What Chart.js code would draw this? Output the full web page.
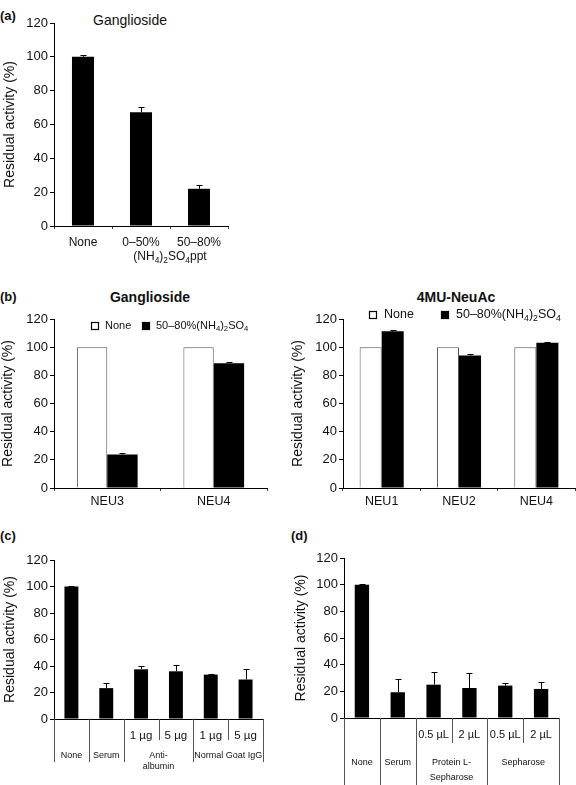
<!DOCTYPE html>
<html>
<head>
<meta charset="utf-8">
<script src="https://cdn.jsdelivr.net/npm/chart.js@4.4.1/dist/chart.umd.min.js"></script>
<style>
  body { margin: 0; background: #fff; width: 576px; height: 785px; position: relative; overflow: hidden;
         font-family: Arial, "Liberation Sans", Helvetica, sans-serif; color: #111; }
  canvas { position: absolute; }
  .tag { position: absolute; font-weight: bold; font-size: 13px; white-space: nowrap; transform: translateY(-50%); }
  .ttl { position: absolute; font-size: 14px; white-space: nowrap; transform: translate(-50%, -50%); }
  .ttl.b { font-weight: bold; }
</style>
</head>
<body>
<div class="tag" style="left:0;top:15px">(a)</div>
<div class="ttl" style="left:130px;top:20px">Ganglioside</div>
<div class="tag" style="left:0;top:296px">(b)</div>
<div class="ttl b" style="left:150px;top:297px">Ganglioside</div>
<div class="ttl b" style="left:456px;top:297px">4MU-NeuAc</div>
<div class="tag" style="left:0;top:535px">(c)</div>
<div class="tag" style="left:291px;top:535px">(d)</div>

<script>
// ---- data ----
const yTitle = 'Residual activity (%)';
const yMax = 120;
const yStep = 20;

const aLabels = ['None', '0–50%', '50–80%'];
const aSpanLabel = '(NH₄)₂SO₄ppt';
const aValues = [100, 67.3, 22];
const aErrors = [0.8, 2.9, 2.1];

const seriesNames = ['None', '50–80%(NH₄)₂SO₄'];

const bGangLabels = ['NEU3', 'NEU4'];
const bGangNone = [100, 100];
const bGangTreated = [23.8, 88.6];
const bGangErrors = [0.9, 1.1];

const bMuLabels = ['NEU1', 'NEU2', 'NEU4'];
const bMuNone = [100, 100, 100];
const bMuTreated = [111.3, 94.1, 103.1];
const bMuErrors = [1.2, 1.4, 0.9];

const cLabels = ['', '', '1 µg', '5 µg', '1 µg', '5 µg'];
const cGroups = [['None'], ['Serum'], ['Anti-', 'albumin'], ['Normal Goat IgG']];
const cSpans = [1, 1, 2, 2];
const cValues = [100, 23.3, 37.5, 36, 33.5, 29.8];
const cErrors = [0.5, 4.2, 2.2, 4.5, 0.8, 8];

const dLabels = ['', '', '0.5 µL', '2 µL', '0.5 µL', '2 µL'];
const dGroups = [['None'], ['Serum'], ['Protein L-', 'Sepharose'], ['Sepharose']];
const dSpans = [1, 1, 2, 2];
const dValues = [100, 19.3, 25, 22.5, 24.3, 21.8];
const dErrors = [0.3, 10, 9.5, 11.3, 2, 5.2];

// ---- helpers ----
const FONT = 'Arial, "Liberation Sans", Helvetica, sans-serif';
Chart.defaults.font.family = FONT;
Chart.defaults.color = '#111';

const SUB = '₀₁₂₃₄₅₆₇₈₉';
function drawRich(ctx, text, x, y, size, align) {
    const runs = [];
    for (const ch of text) {
        const k = SUB.indexOf(ch);
        const sub = k >= 0;
        const c = sub ? String(k) : ch;
        const last = runs[runs.length - 1];
        if (last && last.sub === sub) last.t += c;
        else runs.push({ t: c, sub });
    }
    let w = 0;
    runs.forEach(r => {
        ctx.font = `${r.sub ? size * 0.7 : size}px ${FONT}`;
        r.w = ctx.measureText(r.t).width;
        w += r.w;
    });
    let cx = align === 'center' ? x - w / 2 : x;
    ctx.textAlign = 'left';
    ctx.textBaseline = 'middle';
    runs.forEach(r => {
        ctx.font = `${r.sub ? size * 0.7 : size}px ${FONT}`;
        ctx.fillText(r.t, cx, r.sub ? y + size * 0.3 : y);
        cx += r.w;
    });
}

function place(id, left, top, w, h) {
    const c = document.createElement('canvas');
    c.id = id;
    c.width = w; c.height = h;
    c.style.left = left + 'px'; c.style.top = top + 'px';
    c.style.width = w + 'px'; c.style.height = h + 'px';
    document.body.appendChild(c);
    return c.getContext('2d');
}

// one-sided error bars on top of the bars
const errorBars = {
    id: 'errorBars',
    afterDatasetsDraw(chart) {
        const ctx = chart.ctx, y = chart.scales.y;
        chart.data.datasets.forEach((ds, di) => {
            if (!ds.errors) return;
            chart.getDatasetMeta(di).data.forEach((bar, i) => {
                const e = ds.errors[i];
                if (!e) return;
                const x = Math.round(bar.x) + 0.5;
                const top = Math.round(y.getPixelForValue(ds.data[i] + e)) + 0.5;
                ctx.save();
                ctx.strokeStyle = '#000';
                ctx.lineWidth = 1;
                ctx.beginPath();
                ctx.moveTo(x, bar.y);
                ctx.lineTo(x, top);
                ctx.moveTo(x - 3, top);
                ctx.lineTo(x + 3, top);
                ctx.stroke();
                ctx.restore();
            });
        });
    }
};

// label shared by several categories (panel a)
const spanLabel = {
    id: 'spanLabel',
    afterDraw(chart, args, o) {
        if (!o.text) return;
        const x = chart.scales.x, ctx = chart.ctx;
        const cx = (x.getPixelForValue(o.from) + x.getPixelForValue(o.to)) / 2;
        ctx.save();
        ctx.fillStyle = '#111';
        drawRich(ctx, o.text, cx, o.y, o.size, 'center');
        ctx.restore();
    }
};

// square legend inside the plot (panel b)
const boxLegend = {
    id: 'boxLegend',
    afterDraw(chart, args, o) {
        if (o.x === undefined) return;
        const ctx = chart.ctx;
        chart.data.datasets.forEach((ds, i) => {
            const x = o.x + o.offsets[i];
            ctx.save();
            ctx.fillStyle = ds.backgroundColor;
            ctx.fillRect(x, o.y - o.box / 2, o.box, o.box);
            ctx.strokeStyle = '#000';
            ctx.lineWidth = 1.2;
            ctx.strokeRect(x + 0.5, o.y - o.box / 2 + 0.5, o.box - 1, o.box - 1);
            ctx.fillStyle = '#111';
            drawRich(ctx, ds.label, x + o.box + o.gap, o.y, o.size, 'left');
            ctx.restore();
        });
    }
};

// category table under the x axis (panels c, d)
const groupTable = {
    id: 'groupTable',
    afterDraw(chart, args, o) {
        if (!o.groups) return;
        const x = chart.scales.x, ctx = chart.ctx;
        const n = chart.data.labels.length;
        const edge = i => i === 0 ? x.left : i === n ? x.right
            : (x.getPixelForValue(i - 1) + x.getPixelForValue(i)) / 2;
        const full = new Set([0]);
        let acc = 0;
        o.spans.forEach(s => { acc += s; full.add(acc); });
        ctx.save();
        ctx.strokeStyle = '#555';
        ctx.lineWidth = 1;
        ctx.beginPath();
        for (let i = 0; i <= n; i++) {
            const px = Math.round(edge(i)) + 0.5;
            ctx.moveTo(px, x.top);
            ctx.lineTo(px, full.has(i) ? o.fullBottom : o.shortBottom);
        }
        ctx.stroke();
        ctx.fillStyle = '#111';
        ctx.font = `${o.size}px ${FONT}`;
        ctx.textAlign = 'center';
        ctx.textBaseline = 'middle';
        acc = 0;
        o.groups.forEach((lines, g) => {
            const cx = (edge(acc) + edge(acc + o.spans[g])) / 2;
            lines.forEach((t, li) => ctx.fillText(t, cx, o.y + li * o.gap));
            acc += o.spans[g];
        });
        ctx.restore();
    }
};

function yScale(width, titlePad) {
    return {
        min: 0, max: yMax,
        ticks: { stepSize: yStep, font: { size: 13 }, padding: 2, color: '#111' },
        grid: { display: true, drawOnChartArea: false, drawTicks: true, tickLength: 4, color: '#000' },
        border: { display: true, color: '#000', width: 1 },
        title: { display: true, text: yTitle, font: { size: 14 }, padding: { top: titlePad, bottom: 0 }, color: '#111' },
        afterFit: s => { s.width = width; }
    };
}

function xScale(height, size, pad, marks) {
    return {
        ticks: { font: { size }, padding: pad, autoSkip: false, maxRotation: 0, color: '#111' },
        grid: { display: marks, drawOnChartArea: false, tickLength: 3, color: '#444', offset: true },
        border: { display: true, color: '#000', width: 1 },
        afterFit: s => { s.height = height; }
    };
}

function baseOptions(padding, x, y, extra) {
    return {
        responsive: false,
        animation: false,
        events: [],
        layout: { padding },
        plugins: Object.assign({ legend: { display: false }, tooltip: { enabled: false } }, extra),
        scales: { x, y }
    };
}

// ---- (a) ----
new Chart(place('chartA', 0, 0, 290, 280), {
    type: 'bar',
    data: {
        labels: aLabels,
        datasets: [{ label: 'Ganglioside', data: aValues, errors: aErrors, backgroundColor: '#000',
                     barPercentage: 0.38, categoryPercentage: 1 }]
    },
    options: baseOptions({ top: 23, right: 62, left: 0, bottom: 0 },
        xScale(54, 12, 6, true), yScale(54, 2),
        { spanLabel: { text: aSpanLabel, from: 1, to: 2, y: 257, size: 12 } }),
    plugins: [errorBars, spanLabel]
});

// ---- (b) Ganglioside ----
new Chart(place('chartB1', 0, 280, 288, 240), {
    type: 'bar',
    data: {
        labels: bGangLabels,
        datasets: [
            { label: seriesNames[0], data: bGangNone, backgroundColor: '#fff', borderColor: '#555', borderWidth: 1,
              barPercentage: 1, categoryPercentage: 0.57 },
            { label: seriesNames[1], data: bGangTreated, errors: bGangErrors, backgroundColor: '#000',
              barPercentage: 1, categoryPercentage: 0.57 }
        ]
    },
    options: baseOptions({ top: 39, right: 21, left: 0, bottom: 0 },
        xScale(32, 12.5, 3.5, true), yScale(54, 0),
        { boxLegend: { x: 91, y: 46, offsets: [0, 51], box: 8, gap: 6, size: 11 } }),
    plugins: [errorBars, boxLegend]
});

// ---- (b) 4MU-NeuAc ----
new Chart(place('chartB2', 288, 280, 288, 240), {
    type: 'bar',
    data: {
        labels: bMuLabels,
        datasets: [
            { label: seriesNames[0], data: bMuNone, backgroundColor: '#fff', borderColor: '#555', borderWidth: 1,
              barPercentage: 1, categoryPercentage: 0.57 },
            { label: seriesNames[1], data: bMuTreated, errors: bMuErrors, backgroundColor: '#000',
              barPercentage: 1, categoryPercentage: 0.57 }
        ]
    },
    options: baseOptions({ top: 39, right: 1, left: 0, bottom: 0 },
        xScale(32, 12.5, 3.5, true), yScale(55, 2),
        { boxLegend: { x: 81, y: 35, offsets: [0, 72], box: 8, gap: 7, size: 12.5 } }),
    plugins: [errorBars, boxLegend]
});

// ---- (c) ----
new Chart(place('chartC', 0, 500, 288, 285), {
    type: 'bar',
    data: {
        labels: cLabels,
        datasets: [{ label: 'c', data: cValues, errors: cErrors, backgroundColor: '#000',
                     barPercentage: 0.4, categoryPercentage: 1 }]
    },
    options: baseOptions({ top: 60, right: 25, left: 0, bottom: 0 },
        xScale(66, 11.5, 7, false), yScale(54, 2),
        { groupTable: { groups: cGroups, spans: cSpans, fullBottom: 262, shortBottom: 240, y: 256, gap: 11, size: 9 } }),
    plugins: [errorBars, groupTable]
});

// ---- (d) ----
new Chart(place('chartD', 288, 500, 288, 285), {
    type: 'bar',
    data: {
        labels: dLabels,
        datasets: [{ label: 'd', data: dValues, errors: dErrors, backgroundColor: '#000',
                     barPercentage: 0.4, categoryPercentage: 1 }]
    },
    options: baseOptions({ top: 58, right: 17, left: 0, bottom: 0 },
        xScale(67, 11, 7, false), yScale(56, 5),
        { groupTable: { groups: dGroups, spans: dSpans, fullBottom: 285, shortBottom: 243, y: 263, gap: 15, size: 9 } }),
    plugins: [errorBars, groupTable]
});
</script>
</body>
</html>
